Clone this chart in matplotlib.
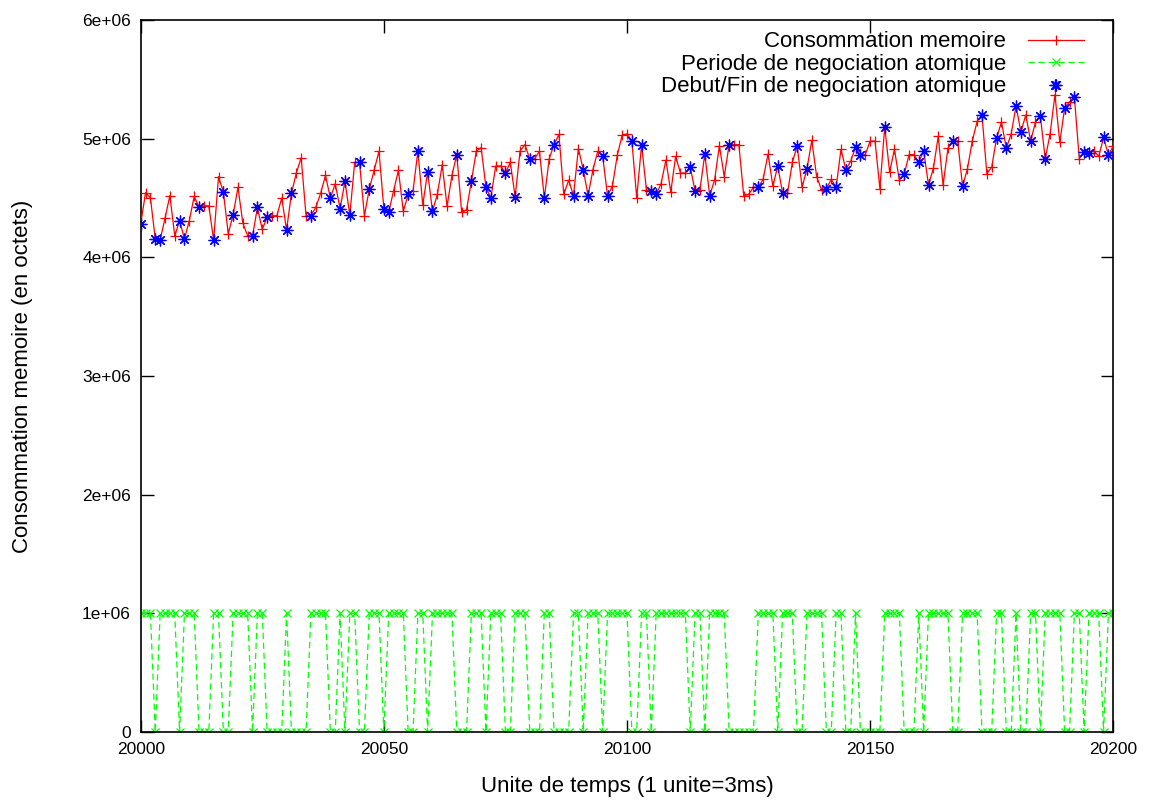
import matplotlib
matplotlib.use("Agg")
import matplotlib.pyplot as plt
from matplotlib.ticker import FixedLocator

plt.rcParams['font.family'] = ['Liberation Sans', 'DejaVu Sans']

# time axis: one sample per time unit
t_start = 20000
n_samples = 201
times = list(range(t_start, t_start + n_samples))

# memory consumption (octets), one value per time unit
memory = [
    4.28e6, 4.546e6, 4.50e6, 4.154e6, 4.146e6, 4.33e6, 4.52e6, 4.18e6, 4.31e6, 4.154e6,
    4.31e6, 4.515e6, 4.42e6, 4.434e6, 4.434e6, 4.146e6, 4.68e6, 4.55e6, 4.20e6, 4.356e6,
    4.59e6, 4.29e6, 4.18e6, 4.18e6, 4.42e6, 4.235e6, 4.34e6, 4.35e6, 4.35e6, 4.50e6,
    4.23e6, 4.54e6, 4.71e6, 4.84e6, 4.35e6, 4.35e6, 4.42e6, 4.54e6, 4.69e6, 4.50e6,
    4.62e6, 4.41e6, 4.64e6, 4.356e6, 4.80e6, 4.80e6, 4.35e6, 4.574e6, 4.734e6, 4.894e6,
    4.41e6, 4.38e6, 4.56e6, 4.734e6, 4.387e6, 4.53e6, 4.56e6, 4.896e6, 4.44e6, 4.72e6,
    4.39e6, 4.53e6, 4.78e6, 4.43e6, 4.69e6, 4.866e6, 4.38e6, 4.40e6, 4.64e6, 4.894e6,
    4.924e6, 4.59e6, 4.50e6, 4.77e6, 4.77e6, 4.71e6, 4.80e6, 4.51e6, 4.894e6, 4.95e6,
    4.83e6, 4.83e6, 4.894e6, 4.50e6, 4.83e6, 4.95e6, 5.036e6, 4.53e6, 4.65e6, 4.52e6,
    4.916e6, 4.74e6, 4.52e6, 4.74e6, 4.894e6, 4.85e6, 4.52e6, 4.60e6, 4.86e6, 5.03e6,
    5.04e6, 4.98e6, 4.50e6, 4.95e6, 4.566e6, 4.56e6, 4.53e6, 4.62e6, 4.82e6, 4.55e6,
    4.85e6, 4.71e6, 4.71e6, 4.76e6, 4.56e6, 4.57e6, 4.87e6, 4.52e6, 4.65e6, 4.94e6,
    4.68e6, 4.95e6, 4.95e6, 4.95e6, 4.52e6, 4.53e6, 4.59e6, 4.59e6, 4.66e6, 4.87e6,
    4.60e6, 4.77e6, 4.54e6, 4.54e6, 4.80e6, 4.94e6, 4.59e6, 4.745e6, 4.986e6, 4.68e6,
    4.57e6, 4.58e6, 4.656e6, 4.59e6, 4.91e6, 4.74e6, 4.81e6, 4.93e6, 4.86e6, 4.866e6,
    4.98e6, 4.98e6, 4.58e6, 5.10e6, 4.72e6, 4.91e6, 4.65e6, 4.70e6, 4.866e6, 4.866e6,
    4.80e6, 4.90e6, 4.61e6, 4.75e6, 5.02e6, 4.61e6, 4.92e6, 4.98e6, 4.98e6, 4.60e6,
    4.745e6, 4.98e6, 5.146e6, 5.196e6, 4.706e6, 4.76e6, 5.006e6, 5.14e6, 4.92e6, 5.04e6,
    5.275e6, 5.056e6, 5.20e6, 4.98e6, 5.14e6, 5.19e6, 4.83e6, 5.04e6, 5.37e6, 4.97e6,
    5.26e6, 5.31e6, 5.35e6, 4.83e6, 4.89e6, 4.88e6, 4.90e6, 4.85e6, 5.01e6, 4.86e6,
    4.94e6,
]

# atomic negotiation period: 1e6 while negotiating, 0 otherwise
negotiation = [v * 1e6 for v in [
    1, 1, 1, 0, 1, 1, 1, 1, 0, 1,
    1, 1, 0, 0, 0, 1, 1, 0, 0, 1,
    1, 1, 1, 0, 1, 1, 0, 0, 0, 0,
    1, 0, 0, 0, 0, 1, 1, 1, 1, 0,
    0, 1, 0, 1, 1, 0, 0, 1, 1, 1,
    0, 1, 1, 1, 1, 0, 0, 1, 1, 0,
    1, 1, 1, 1, 1, 0, 0, 0, 1, 1,
    1, 0, 1, 1, 1, 0, 0, 1, 1, 1,
    0, 0, 0, 1, 1, 0, 0, 0, 0, 1,
    1, 0, 1, 1, 1, 0, 1, 1, 1, 1,
    1, 0, 0, 1, 1, 0, 1, 1, 1, 1,
    1, 1, 1, 0, 1, 1, 0, 1, 1, 1,
    1, 0, 0, 0, 0, 0, 0, 1, 1, 1,
    1, 0, 1, 1, 1, 0, 0, 1, 1, 1,
    1, 0, 0, 1, 1, 0, 0, 1, 0, 0,
    0, 0, 0, 1, 1, 1, 1, 0, 0, 0,
    1, 0, 1, 1, 1, 1, 1, 0, 0, 1,
    1, 1, 1, 0, 0, 0, 1, 1, 0, 0,
    1, 0, 0, 1, 1, 0, 1, 1, 1, 1,
    0, 0, 1, 1, 0, 1, 1, 1, 0, 1,
    1,
]]

# start / end of atomic negotiation: time and memory at that instant
event_times = [
    20000, 20003, 20004, 20008, 20009, 20012, 20015, 20017, 20019, 20023,
    20024, 20026, 20030, 20031, 20035, 20039, 20041, 20042, 20043, 20045,
    20047, 20050, 20051, 20055, 20057, 20059, 20060, 20065, 20068, 20071,
    20072, 20075, 20077, 20080, 20083, 20085, 20089, 20091, 20092, 20095,
    20096, 20101, 20103, 20105, 20106, 20113, 20114, 20116, 20117, 20121,
    20127, 20131, 20132, 20135, 20137, 20141, 20143, 20145, 20147, 20148,
    20153, 20157, 20160, 20161, 20162, 20167, 20169, 20173, 20176, 20178,
    20180, 20181, 20183, 20185, 20186, 20188, 20190, 20192, 20194, 20195,
    20198, 20199,
]
event_memory = [
    4.28e6, 4.154e6, 4.146e6, 4.31e6, 4.154e6, 4.42e6, 4.146e6, 4.55e6, 4.356e6, 4.18e6,
    4.42e6, 4.34e6, 4.23e6, 4.54e6, 4.35e6, 4.50e6, 4.41e6, 4.64e6, 4.356e6, 4.80e6,
    4.574e6, 4.41e6, 4.38e6, 4.53e6, 4.896e6, 4.72e6, 4.39e6, 4.866e6, 4.64e6, 4.59e6,
    4.50e6, 4.71e6, 4.51e6, 4.83e6, 4.50e6, 4.95e6, 4.52e6, 4.74e6, 4.52e6, 4.85e6,
    4.52e6, 4.98e6, 4.95e6, 4.56e6, 4.53e6, 4.76e6, 4.56e6, 4.87e6, 4.52e6, 4.95e6,
    4.59e6, 4.77e6, 4.54e6, 4.94e6, 4.745e6, 4.58e6, 4.59e6, 4.74e6, 4.93e6, 4.86e6,
    5.10e6, 4.70e6, 4.80e6, 4.90e6, 4.61e6, 4.98e6, 4.60e6, 5.196e6, 5.006e6, 4.92e6,
    5.275e6, 5.056e6, 4.98e6, 5.19e6, 4.83e6, 5.45e6, 5.26e6, 5.35e6, 4.89e6, 4.88e6,
    5.01e6, 4.86e6,
]

x_ticks = [20000, 20050, 20100, 20150, 20200]
y_ticks = [0, 1e6, 2e6, 3e6, 4e6, 5e6, 6e6]
y_tick_labels = ["0", "1e+06", "2e+06", "3e+06", "4e+06", "5e+06", "6e+06"]

W, H = 1161, 806
fig = plt.figure(figsize=(W / 100, H / 100), dpi=100)
ax = fig.add_axes([140.7 / W, 1 - 732 / H, (1113.3 - 140.7) / W, (732 - 20) / H])

ax.plot(times, memory, color='#ff0000', linewidth=0.9, marker='+',
        markersize=7.5, markeredgewidth=0.9, label='Consommation memoire', zorder=3)
ax.plot(times, negotiation, color='#00ff00', linewidth=0.9, linestyle=(0, (5, 3)),
        marker='x', markersize=6, markeredgewidth=0.9,
        label='Periode de negociation atomique', zorder=2)
ax.plot(event_times, event_memory, linestyle='none', color='#0000ff',
        marker=(8, 2, 0), markersize=8.5, markeredgewidth=0.9,
        label='Debut/Fin de negociation atomique', zorder=4)

ax.set_xlim(20000, 20200)
ax.set_ylim(0, 6e6)
ax.xaxis.set_major_locator(FixedLocator(x_ticks))
ax.set_xticklabels([str(v) for v in x_ticks])
ax.yaxis.set_major_locator(FixedLocator(y_ticks))
ax.set_yticklabels(y_tick_labels)

ax.tick_params(direction='in', length=9, width=1, top=True, right=True,
               labelsize=12.5, pad=7, colors='black')
for s in ax.spines.values():
    s.set_linewidth(1.2)

ax.set_xlabel('Unite de temps (1 unite=3ms)', fontsize=16)
ax.set_ylabel('Consommation memoire (en octets)', fontsize=16)
ax.xaxis.set_label_coords(0.5, -0.077)
ax.yaxis.set_label_coords(-0.122, 0.5)
ax.xaxis.label.set_va('center')
ax.yaxis.label.set_va('center')

leg = ax.legend(loc='upper right', bbox_to_anchor=(0.9858, 1.006), frameon=False,
                markerfirst=False, fontsize=16, handlelength=2.5,
                handletextpad=1.0, labelspacing=0.07, borderpad=0.2,
                alignment='right')
for txt in leg.get_texts():
    txt.set_ha('right')

fig.savefig('out.png', dpi=100)
